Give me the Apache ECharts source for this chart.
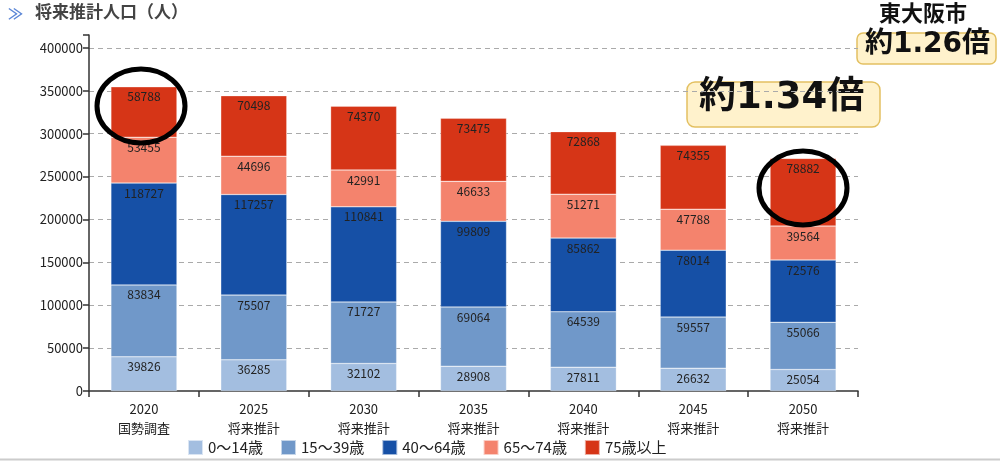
<!DOCTYPE html>
<html><head><meta charset="utf-8">
<script src="https://cdn.jsdelivr.net/npm/echarts@6/dist/echarts.min.js"></script>
<style>html,body{margin:0;padding:0;background:#fff}#c{width:1000px;height:461px}</style>
</head><body><div id="c"></div>
<script>
const categories = ['2020\n国勢調査','2025\n将来推計','2030\n将来推計','2035\n将来推計','2040\n将来推計','2045\n将来推計','2050\n将来推計'];
const seriesNames = ['0〜14歳','15〜39歳','40〜64歳','65〜74歳','75歳以上'];
const age0_14 = [39826, 36285, 32102, 28908, 27811, 26632, 25054];
const age15_39 = [83834, 75507, 71727, 69064, 64539, 59557, 55066];
const age40_64 = [118727, 117257, 110841, 99809, 85862, 78014, 72576];
const age65_74 = [53455, 44696, 42991, 46633, 51271, 47788, 39564];
const age75 = [58788, 70498, 74370, 73475, 72868, 74355, 78882];
const colors = ['#a3bee0', '#7098c9', '#1650a6', '#f4836d', '#d63517'];
const FONT = '"Noto Sans CJK JP", "Noto Sans", sans-serif';
const BIG = '"DejaVu Sans", "Noto Sans CJK JP", sans-serif';

const chart = echarts.init(document.getElementById('c'));
const all = [age0_14, age15_39, age40_64, age65_74, age75];
chart.setOption({
  animation: false,
  textStyle: { fontFamily: FONT },
  grid: { left: 89, right: 142, top: 35, bottom: 70 },
  legend: {
    left: 182, bottom: 0, itemWidth: 15, itemHeight: 15, itemGap: 17, icon: 'rect',
    textStyle: { fontSize: 15, color: '#222', fontFamily: FONT },
    data: seriesNames
  },
  xAxis: {
    type: 'category', data: categories,
    axisLine: { lineStyle: { color: '#333', width: 1.5 } },
    axisTick: { show: true, length: 6, lineStyle: { color: '#333', width: 1.5 } },
    axisLabel: { fontSize: 13, color: '#222', lineHeight: 19, margin: 9, fontFamily: FONT }
  },
  yAxis: {
    type: 'value', min: 0, max: 415000, interval: 50000,
    axisLine: { show: true, lineStyle: { color: '#333', width: 1.5 } },
    axisTick: { show: true, length: 6, lineStyle: { color: '#333', width: 1.5 } },
    axisLabel: { fontSize: 13, color: '#222', margin: 6, fontFamily: FONT,
      formatter: v => (v % 50000 === 0 ? String(v) : '') },
    splitLine: { show: true, showMaxLine: false, showMinLine: false, lineStyle: { color: '#aaa', type: [5, 4], width: 1 } }
  },
  series: all.map((d, i) => ({
    name: seriesNames[i], type: 'bar', stack: 'total', data: d, barWidth: 66,
    itemStyle: { color: colors[i], borderColor: 'rgba(255,255,255,0.6)', borderWidth: 0.5 },
    label: { show: true, position: 'insideTop', distance: 4, fontSize: 12, color: '#222', fontFamily: FONT }
  })),
  graphic: [
    { type: 'text', left: 8, top: 6, style: { text: '≫', fontSize: 15, fill: '#5b86d6', fontWeight: 'bold', fontFamily: FONT } },
    { type: 'text', left: 35, top: 3, style: { text: '将来推計人口（人）', fontSize: 17, fontWeight: 'bold', fill: '#444', fontFamily: FONT } },
    { type: 'text', left: 879, top: 2, style: { text: '東大阪市', fontSize: 22, fontWeight: 'bold', fill: '#111', fontFamily: FONT } },
    { type: 'rect', shape: { x: 857, y: 33, width: 139, height: 31, r: 6 }, style: { fill: '#fff2cc', stroke: '#e3c061', lineWidth: 1.5 } },
    { type: 'text', left: 865, top: 31, style: { text: '約1.26倍', fontSize: 28, fontWeight: 'bold', fill: '#111', fontFamily: BIG } },
    { type: 'rect', shape: { x: 687, y: 82, width: 193, height: 45, r: 8 }, style: { fill: '#fff2cc', stroke: '#e3c061', lineWidth: 1.5 } },
    { type: 'text', left: 699, top: 80, style: { text: '約1.34倍', fontSize: 37, fontWeight: 'bold', fill: '#111', fontFamily: BIG } },
    { type: 'ellipse', shape: { cx: 141, cy: 106, rx: 44, ry: 37 }, style: { fill: 'none', stroke: '#000', lineWidth: 5 }, z: 100 },
    { type: 'ellipse', shape: { cx: 803, cy: 188, rx: 44, ry: 37 }, style: { fill: 'none', stroke: '#000', lineWidth: 5 }, z: 100 },
    { type: 'line', shape: { x1: 0, y1: 459.5, x2: 1000, y2: 459.5 }, style: { stroke: '#ccc', lineWidth: 2 } }
  ]
});
</script></body></html>
